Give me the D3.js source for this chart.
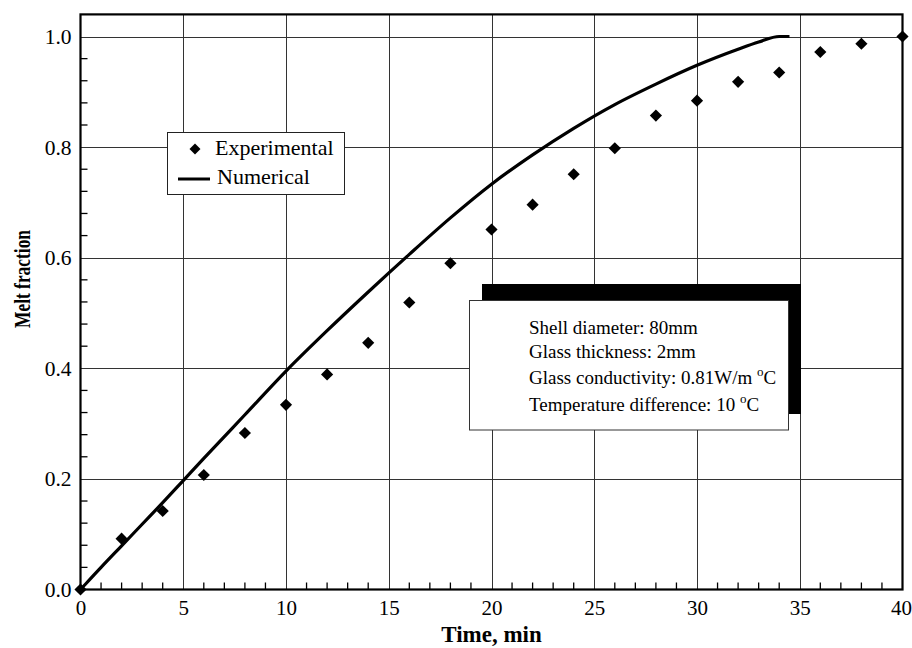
<!DOCTYPE html>
<html>
<head>
<meta charset="utf-8">
<script src="https://cdn.jsdelivr.net/npm/d3@7"></script>
<style>
  html, body { margin: 0; padding: 0; background: #fff; }
  svg { display: block; font-family: "Liberation Serif", "Times New Roman", serif; }
</style>
</head>
<body>
<svg id="chart" width="912" height="648"></svg>
<script>
// Experimental melt fraction, sampled every 2 min
const timeExp = [0, 2, 4, 6, 8, 10, 12, 14, 16, 18, 20, 22, 24, 26, 28, 30, 32, 34, 36, 38, 40];
const meltExp = [0, 0.092, 0.142, 0.207, 0.283, 0.334, 0.389, 0.446, 0.519, 0.590, 0.651,
                 0.696, 0.751, 0.798, 0.857, 0.884, 0.918, 0.935, 0.972, 0.987, 1.0];

// Numerical melt fraction curve
const timeNum = [0, 0.5, 1, 2, 3, 4, 5, 6, 8, 10, 12, 14, 16, 18, 20, 22, 24, 26, 28, 30, 32, 33, 34, 34.5];
const meltNum = [0, 0.02, 0.04, 0.079, 0.118, 0.157, 0.197, 0.237, 0.316, 0.395, 0.468, 0.538,
                 0.606, 0.672, 0.733, 0.786, 0.834, 0.877, 0.914, 0.948, 0.977, 0.99, 1.0, 1.0];

// Axis ticks
const xTicks = [0, 5, 10, 15, 20, 25, 30, 35, 40];
const yTicks = [0, 0.2, 0.4, 0.6, 0.8, 1.0];
const yTickLabels = ["0.0", "0.2", "0.4", "0.6", "0.8", "1.0"];

// Legend and annotation text
const legendLabels = ["Experimental", "Numerical"];
const infoLines = [
  ["Shell diameter: 80mm"],
  ["Glass thickness: 2mm"],
  ["Glass conductivity: 0.81W/m ", "o", "C"],
  ["Temperature difference: 10 ", "o", "C"]
];

const svg = d3.select("#chart");
const x = d3.scaleLinear().domain([0, 40]).range([80.5, 902.5]);
const y = d3.scaleLinear().domain([0, 1.04]).range([589.5, 14.4]);

const [x0, x1] = x.range();
const [yb, yt] = y.range();

// grid lines at major ticks
const grid = svg.append("g").attr("stroke", "#333").attr("stroke-width", 1);
grid.selectAll("line.vg").data(xTicks.slice(1, -1)).join("line")
  .attr("x1", d => Math.round(x(d)) + 0.5).attr("x2", d => Math.round(x(d)) + 0.5)
  .attr("y1", yt).attr("y2", yb);
grid.selectAll("line.hg").data(yTicks.slice(1)).join("line")
  .attr("x1", x0).attr("x2", x1)
  .attr("y1", d => Math.round(y(d)) + 0.5).attr("y2", d => Math.round(y(d)) + 0.5);

// minor ticks (inside the frame)
const xMinor = d3.range(0, 41, 1).filter(v => v % 5 !== 0);
const yMinor = d3.range(0, 26).map(i => +(i * 0.04).toFixed(2)).filter(v => Math.abs(v / 0.2 - Math.round(v / 0.2)) > 1e-6);
const ticks = svg.append("g").attr("stroke", "#000").attr("stroke-width", 1.3);
ticks.selectAll("line.xm").data(xMinor).join("line")
  .attr("x1", d => x(d)).attr("x2", d => x(d))
  .attr("y1", yb).attr("y2", yb - 7);
ticks.selectAll("line.ym").data(yMinor).join("line")
  .attr("x1", x0).attr("x2", x0 + 7)
  .attr("y1", d => y(d)).attr("y2", d => y(d));

// axes via d3 axis for labels
const xAxis = d3.axisBottom(x).tickValues(xTicks).tickSize(0).tickPadding(11).tickFormat(d3.format("d"));
const gx = svg.append("g").attr("transform", `translate(0,${yb})`).call(xAxis);
gx.select(".domain").remove();
gx.selectAll("text").attr("font-size", 21).attr("font-family", "Liberation Serif").attr("fill", "#000")
  .attr("dx", d => d === 40 ? -1.5 : 0);

const yAxis = d3.axisLeft(y).tickValues(yTicks).tickSize(0).tickPadding(9)
  .tickFormat((d, i) => yTickLabels[i]);
const gy = svg.append("g").attr("transform", `translate(${x0},0)`).call(yAxis);
gy.select(".domain").remove();
gy.selectAll("text").attr("font-size", 21.5).attr("font-family", "Liberation Serif").attr("fill", "#000");

// numerical curve
const numData = timeNum.map((t, i) => [t, meltNum[i]]);
const line = d3.line().x(d => x(d[0])).y(d => y(d[1])).curve(d3.curveMonotoneX);
svg.append("path").datum(numData)
  .attr("d", line).attr("fill", "none").attr("stroke", "#000").attr("stroke-width", 3.2)
  .attr("stroke-linejoin", "round");

// experimental diamonds
const diamond = d3.symbol(d3.symbolSquare, 74);
svg.append("g").selectAll("path").data(timeExp.map((t, i) => [t, meltExp[i]])).join("path")
  .attr("d", diamond)
  .attr("transform", d => `translate(${x(d[0])},${y(d[1])}) rotate(45)`)
  .attr("fill", "#000");

// frame
svg.append("rect")
  .attr("x", x0).attr("y", yt).attr("width", x1 - x0).attr("height", yb - yt)
  .attr("fill", "none").attr("stroke", "#000").attr("stroke-width", 2.2);

// legend
const lg = svg.append("g");
lg.append("rect").attr("x", 167.5).attr("y", 132.5).attr("width", 177).attr("height", 62)
  .attr("fill", "#fff").attr("stroke", "#222").attr("stroke-width", 1);
lg.append("path").attr("d", d3.symbol(d3.symbolSquare, 60))
  .attr("transform", "translate(195,149) rotate(45)").attr("fill", "#000");
lg.append("line").attr("x1", 178).attr("x2", 210).attr("y1", 179).attr("y2", 179)
  .attr("stroke", "#000").attr("stroke-width", 3);
lg.append("text").attr("x", 215).attr("y", 155).attr("font-size", 22).text(legendLabels[0]);
lg.append("text").attr("x", 217).attr("y", 184).attr("font-size", 22).text(legendLabels[1]);

// parameter box with offset shadow
const ib = svg.append("g");
ib.append("rect").attr("x", 482).attr("y", 284).attr("width", 319).attr("height", 130).attr("fill", "#000");
ib.append("rect").attr("x", 469.5).attr("y", 300.5).attr("width", 319).attr("height", 129.5)
  .attr("fill", "#fff").attr("stroke", "#333").attr("stroke-width", 1);
const baselines = [334, 358, 384, 410.5];
infoLines.forEach((parts, i) => {
  const t = ib.append("text").attr("x", 529).attr("y", baselines[i]).attr("font-size", 19);
  t.append("tspan").text(parts[0]);
  if (parts.length > 1) {
    t.append("tspan").attr("dy", -8).attr("font-size", 13).text(parts[1]);
    t.append("tspan").attr("dy", 8).text(parts[2]);
  }
});

// axis titles
svg.append("text").attr("x", (x0 + x1) / 2).attr("y", 642)
  .attr("text-anchor", "middle").attr("font-size", 23).attr("font-weight", "bold")
  .text("Time, min");
svg.append("text").attr("transform", "translate(30,279) rotate(-90)")
  .attr("text-anchor", "middle").attr("font-size", 23).attr("font-weight", "bold")
  .attr("textLength", 98).attr("lengthAdjust", "spacingAndGlyphs")
  .text("Melt fraction");
</script>
</body>
</html>
